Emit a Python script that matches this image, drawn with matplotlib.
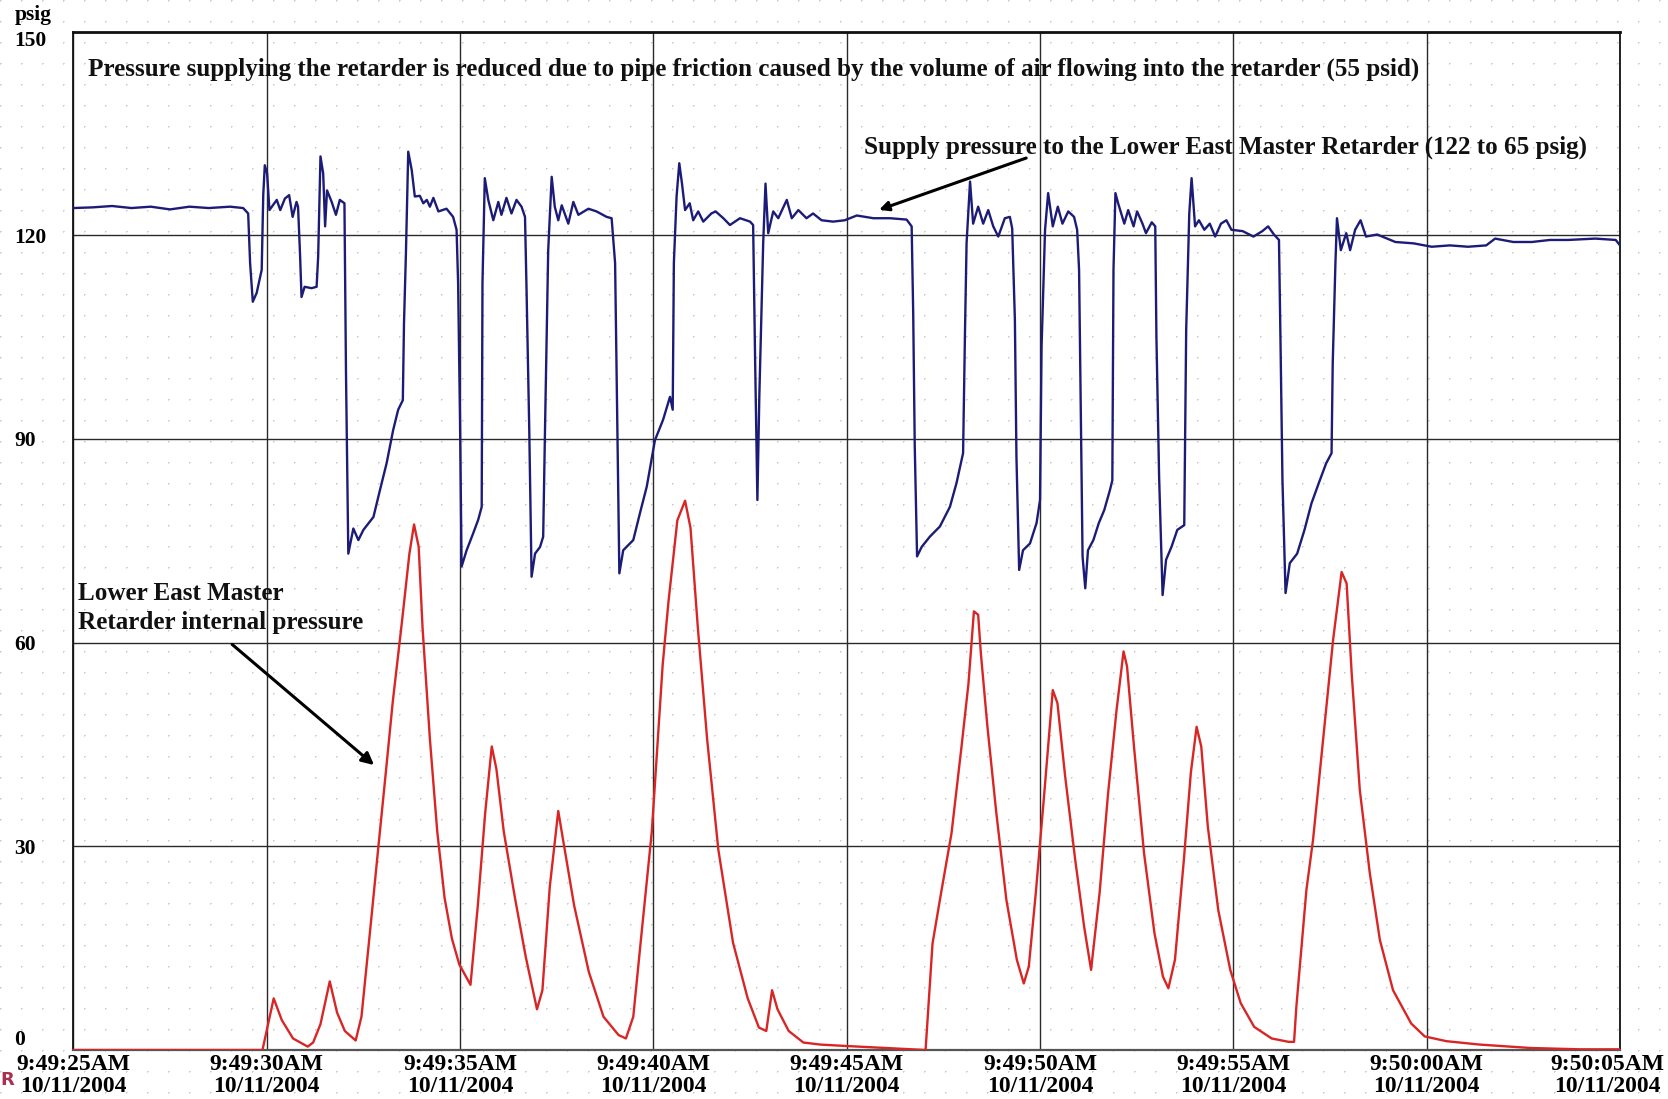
import numpy as np
import matplotlib
matplotlib.use("Agg")
import matplotlib.pyplot as plt

# seconds after 9:49:25AM and psig
supply_t = [0.0, 0.5, 1.0, 1.5, 2.0, 2.5, 3.0, 3.5, 4.05, 4.39, 4.52, 4.57, 4.64, 4.74, 4.87, 4.91, 4.95,
            5.01, 5.07, 5.26, 5.35, 5.47, 5.58, 5.67, 5.77, 5.81, 5.86, 5.90, 5.98, 6.16, 6.29, 6.33, 6.39,
            6.46, 6.51, 6.56, 6.68, 6.79, 6.89, 7.01, 7.05, 7.11, 7.24, 7.37, 7.50, 7.76, 7.93, 8.10, 8.27,
            8.40, 8.52, 8.55, 8.60, 8.66, 8.75, 8.83, 8.96, 9.05, 9.14, 9.22, 9.31, 9.44, 9.65, 9.82, 9.91,
            9.95, 10.00, 10.04, 10.17, 10.34, 10.47, 10.56, 10.58, 10.64, 10.73, 10.86, 10.99, 11.07, 11.20,
            11.33, 11.46, 11.59, 11.68, 11.72, 11.79, 11.85, 11.94, 12.07, 12.15, 12.20, 12.28, 12.37, 12.45,
            12.54, 12.63, 12.80, 12.93, 13.06, 13.32, 13.53, 13.79, 13.92, 14.01, 14.05, 14.12, 14.22, 14.48,
            14.65, 14.83, 15.04, 15.25, 15.43, 15.50, 15.53, 15.60, 15.67, 15.74, 15.82, 15.94, 16.03, 16.16,
            16.29, 16.50, 16.61, 16.81, 16.98, 17.24, 17.50, 17.58, 17.63, 17.69, 17.74, 17.84, 17.90, 17.97,
            18.10, 18.23, 18.45, 18.58, 18.75, 18.96, 19.13, 19.35, 19.65, 19.95, 20.26, 20.69, 21.12, 21.55,
            21.68, 21.72, 21.76, 21.82, 21.94, 22.15, 22.41, 22.67, 22.84, 23.01, 23.06, 23.10, 23.19, 23.27,
            23.40, 23.53, 23.66, 23.79, 23.92, 24.09, 24.22, 24.28, 24.35, 24.39, 24.46, 24.56, 24.74, 24.91,
            25.00, 25.04, 25.13, 25.21, 25.33, 25.46, 25.58, 25.73, 25.88, 25.96, 26.01, 26.05, 26.10, 26.17,
            26.24, 26.38, 26.52, 26.66, 26.81, 26.87, 26.90, 26.95, 27.02, 27.18, 27.28, 27.42, 27.51, 27.65,
            27.74, 27.89, 27.98, 28.01, 28.08, 28.17, 28.26, 28.40, 28.55, 28.73, 28.78, 28.86, 28.92, 29.01,
            29.11, 29.25, 29.39, 29.53, 29.68, 29.82, 29.95, 30.24, 30.52, 30.75, 30.90, 31.05, 31.18, 31.22,
            31.27, 31.35, 31.46, 31.65, 31.84, 32.02, 32.21, 32.40, 32.54, 32.57, 32.64, 32.68, 32.78, 32.92,
            33.02, 33.15, 33.29, 33.43, 33.72, 34.19, 34.66, 35.13, 35.60, 36.07, 36.54, 36.77, 37.24, 37.72,
            38.19, 38.66, 39.36, 39.89, 40.0]
supply_p = [124.0, 124.1, 124.3, 124.0, 124.2, 123.8, 124.2, 124.0, 124.2, 124.0, 123.2, 115.9, 110.2, 111.5,
            114.9, 125.9, 130.3, 129.1, 123.7, 125.2, 123.7, 125.4, 125.9, 122.7, 124.9, 124.2, 117.4, 110.9,
            112.4, 112.2, 112.4, 116.8, 131.6, 129.1, 121.3, 126.6, 124.9, 123.0, 125.2, 124.7, 99.7, 73.1,
            76.8, 75.1, 76.6, 78.5, 82.5, 86.4, 91.3, 94.3, 95.7, 107.0, 117.3, 132.3, 129.6, 125.7, 125.8,
            124.7, 125.2, 124.2, 125.5, 123.5, 123.9, 122.7, 120.8, 112.9, 92.3, 71.2, 73.6, 76.1, 78.1, 80.0,
            113.0, 128.4, 125.2, 122.2, 124.9, 123.0, 125.5, 123.2, 125.2, 124.2, 122.7, 111.9, 91.3, 69.7,
            73.1, 74.1, 75.6, 92.3, 117.8, 128.6, 124.2, 122.2, 124.4, 121.7, 124.9, 123.0, 123.9, 123.5,
            122.7, 122.5, 115.9, 99.7, 70.2, 73.6, 75.1, 79.0, 83.0, 89.8, 92.8, 96.2, 94.3, 115.9, 125.7,
            130.6, 127.6, 123.7, 124.7, 122.2, 123.5, 122.0, 123.2, 123.5, 122.5, 121.5, 122.5, 122.0, 121.5,
            102.1, 81.0, 96.2, 118.8, 127.6, 120.3, 123.5, 122.5, 125.2, 122.5, 123.7, 122.5, 123.2, 122.2,
            122.0, 122.2, 122.9, 122.5, 122.5, 122.3, 121.3, 108.5, 88.9, 72.7, 74.1, 75.6, 77.1, 80.0, 83.5,
            87.9, 106.0, 118.8, 127.9, 121.7, 124.2, 121.7, 123.7, 121.3, 119.8, 122.5, 122.7, 121.0, 107.5,
            87.4, 70.7, 73.6, 74.6, 77.6, 81.0, 103.6, 120.8, 126.2, 121.3, 124.2, 121.7, 123.5, 122.7, 120.8,
            114.9, 96.2, 72.7, 68.0, 73.6, 75.1, 77.6, 79.5, 82.5, 83.9, 114.9, 126.2, 124.7, 121.7, 123.7,
            121.3, 123.5, 121.7, 120.3, 121.9, 121.3, 105.1, 84.4, 67.0, 72.2, 74.1, 76.6, 77.3, 106.0, 123.2,
            128.4, 121.3, 122.2, 120.8, 121.7, 119.8, 121.7, 122.2, 120.8, 120.6, 119.8, 120.6, 121.3, 120.1,
            119.3, 104.1, 83.9, 67.3, 71.7, 73.1, 76.6, 80.5, 83.5, 86.4, 87.9, 101.1, 115.9, 122.5, 117.8,
            120.3, 117.8, 120.8, 122.2, 119.8, 120.1, 119.0, 118.8, 118.3, 118.5, 118.3, 118.5, 119.5, 119.0,
            119.0, 119.3, 119.3, 119.5, 119.3, 118.5]

internal_t = [0.0, 4.89, 5.18, 5.39, 5.68, 6.06, 6.20, 6.39, 6.63, 6.82, 7.02, 7.30, 7.45, 7.69, 7.88, 8.07,
              8.26, 8.50, 8.69, 8.81, 8.93, 9.03, 9.22, 9.41, 9.60, 9.79, 9.98, 10.27, 10.46, 10.65, 10.82,
              10.94, 11.13, 11.42, 11.70, 11.99, 12.13, 12.32, 12.54, 12.66, 12.95, 13.33, 13.71, 14.10, 14.29,
              14.48, 14.67, 14.96, 15.24, 15.39, 15.62, 15.82, 15.96, 16.15, 16.39, 16.68, 17.06, 17.44, 17.73,
              17.92, 18.07, 18.21, 18.50, 18.88, 19.32, 19.95, 21.02, 22.04, 22.22, 22.44, 22.71, 22.97, 23.15,
              23.29, 23.40, 23.47, 23.64, 23.87, 24.13, 24.40, 24.58, 24.71, 24.89, 25.11, 25.33, 25.45, 25.65,
              25.91, 26.14, 26.32, 26.54, 26.76, 26.98, 27.16, 27.25, 27.43, 27.69, 27.96, 28.18, 28.32, 28.49,
              28.72, 28.90, 29.05, 29.17, 29.34, 29.61, 29.92, 30.19, 30.54, 30.99, 31.43, 31.57, 31.63, 31.89,
              32.06, 32.32, 32.58, 32.80, 32.93, 33.06, 33.27, 33.53, 33.79, 34.13, 34.60, 34.95, 35.51, 36.37,
              37.67, 38.96, 40.0]
internal_p = [0.0, 0.0, 7.6, 4.4, 1.7, 0.5, 1.1, 3.8, 10.1, 5.5, 2.8, 1.4, 4.9, 18.5, 29.5, 40.3, 51.3, 63.2,
              73.1, 77.4, 74.1, 62.2, 45.8, 32.2, 22.4, 16.4, 12.6, 9.6, 21.3, 34.9, 44.7, 41.4, 32.2, 22.4,
              13.7, 6.0, 8.8, 24.0, 35.2, 31.1, 21.3, 11.5, 4.9, 2.2, 1.7, 4.9, 15.8, 32.2, 56.7, 66.0, 78.0,
              80.9, 76.9, 62.2, 45.8, 29.5, 15.8, 7.6, 3.3, 2.8, 8.8, 6.0, 2.8, 1.1, 0.8, 0.6, 0.3, 0.0, 15.7,
              23.1, 31.9, 44.7, 54.0, 64.6, 64.1, 58.4, 47.6, 34.9, 22.1, 13.3, 9.8, 12.3, 23.1, 37.8, 53.0,
              51.1, 40.3, 28.0, 18.2, 11.8, 23.1, 37.8, 50.1, 58.7, 56.5, 44.7, 29.0, 17.2, 10.8, 9.1, 13.3,
              28.0, 40.8, 47.6, 44.7, 32.9, 20.6, 11.8, 6.9, 3.4, 1.7, 1.2, 1.2, 6.4, 23.6, 30.9, 45.7, 60.4,
              70.4, 68.7, 55.5, 38.3, 26.0, 16.2, 8.8, 3.9, 2.0, 1.3, 0.8, 0.3, 0.1, 0.1]

x_ticks = [0, 5, 10, 15, 20, 25, 30, 35, 40]
x_labels = ["9:49:25AM\n10/11/2004", "9:49:30AM\n10/11/2004", "9:49:35AM\n10/11/2004",
            "9:49:40AM\n10/11/2004", "9:49:45AM\n10/11/2004", "9:49:50AM\n10/11/2004",
            "9:49:55AM\n10/11/2004", "9:50:00AM\n10/11/2004", "9:50:05AM\n10/11/2004"]
y_ticks = [0, 30, 60, 90, 120, 150]

plt.rcParams['font.family'] = ['Liberation Serif', 'DejaVu Serif']
plt.rcParams['font.weight'] = 'bold'

W, H = 1668, 1099
fig = plt.figure(figsize=(W / 100, H / 100), dpi=100)
fig.patch.set_facecolor('white')

# faint dotted paper texture behind everything
bg = np.ones((H, W, 3))
bg[::21, ::21] = 0.80
bg[1::21, ::21] = 0.86
bg[::21, 1::21] = 0.86
fig.figimage(bg, xo=0, yo=0, zorder=-5)

ax = fig.add_axes([73.4 / W, 49 / H, 1546.6 / W, 1018.5 / H])
ax.patch.set_alpha(0)

ax.plot(supply_t, supply_p, color='#1c1c78', lw=1.7, zorder=3)
ax.plot(internal_t, internal_p, color='#d82626', lw=1.7, zorder=3)

ax.set_xlim(0, 40)
ax.set_ylim(0, 150)
ax.set_xticks(x_ticks)
ax.set_xticklabels(x_labels[:-1] + [""], fontsize=17, fontweight='bold', linespacing=1.08)
# the last time label sits against the right edge of the picture, nudge it in
ax.annotate(x_labels[-1], xy=(x_ticks[-1], 0), xycoords=('data', 'axes fraction'),
            xytext=(-9, -3), textcoords='offset points', ha='center', va='top',
            fontsize=17, fontweight='bold', linespacing=1.08)
ax.set_yticks(y_ticks)
ylabs = ax.set_yticklabels([str(v) for v in y_ticks], fontsize=15.5, fontweight='bold', ha='left')
ylabs[0].set_va('bottom')
ylabs[-1].set_va('top')
ax.tick_params(axis='x', length=0, pad=3)
ax.tick_params(axis='y', length=0, pad=42.8)
ax.grid(True, color='#2a2a2a', lw=1.0)
ax.set_axisbelow(True)

for side in ['left', 'right']:
    ax.spines[side].set_linewidth(1.3)
    ax.spines[side].set_color('#111111')
ax.spines['top'].set_linewidth(2.0)
ax.spines['top'].set_color('#111111')
ax.spines['bottom'].set_linewidth(1.6)
ax.spines['bottom'].set_color('#555555')

fig.text(15 / W, 1 - 15 / H, "psig", fontsize=15.5, fontweight='bold', va='center', ha='left')
fig.text(0, 1 - 1080 / H, "R", fontsize=13, fontweight='bold', color='#a83050',
         va='center', ha='left', family='DejaVu Sans')

ax.text(0.38, 144.4, "Pressure supplying the retarder is reduced due to pipe friction caused by the "
        "volume of air flowing into the retarder (55 psid)",
        fontsize=18.1, fontweight='bold', va='center', ha='left', color='#111111')
ax.text(20.44, 133.0, "Supply pressure to the Lower East Master Retarder (122 to 65 psig)",
        fontsize=18.1, fontweight='bold', va='center', ha='left', color='#111111')
ax.text(0.11, 65.1, "Lower East Master\nRetarder internal pressure",
        fontsize=18.1, fontweight='bold', va='center', ha='left', linespacing=1.3, color='#111111')

ax.annotate("", xy=(20.77, 123.6), xytext=(24.71, 131.5),
            arrowprops=dict(arrowstyle='-|>', color='black', lw=2.2, mutation_scale=14))
ax.annotate("", xy=(7.83, 41.7), xytext=(4.05, 60.0),
            arrowprops=dict(arrowstyle='-|>', color='black', lw=2.2, mutation_scale=18))

fig.savefig("out.png", dpi=100, facecolor='white')
